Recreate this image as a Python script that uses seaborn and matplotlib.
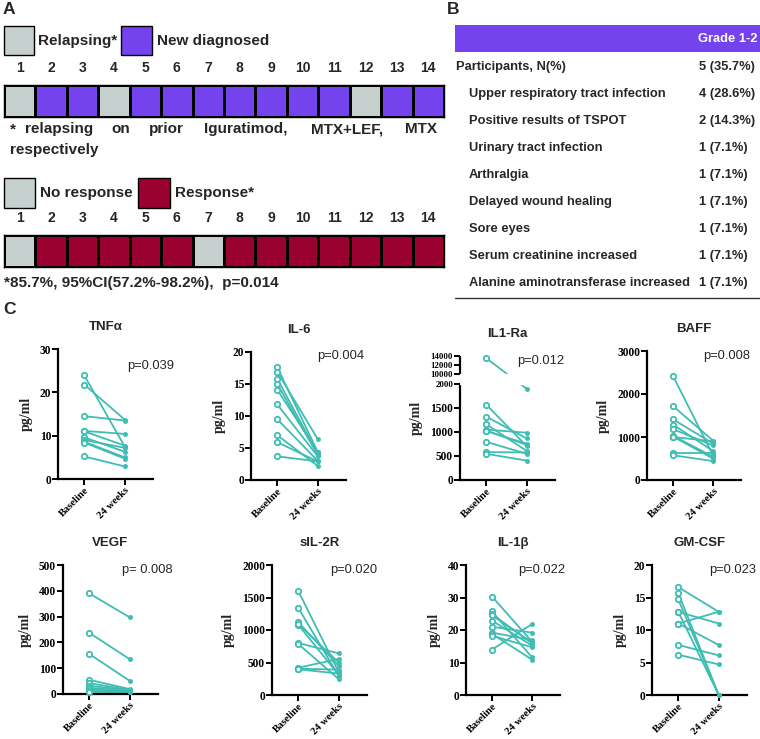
import numpy as np
import pandas as pd
import matplotlib
matplotlib.use("Agg")
import matplotlib.pyplot as plt
import matplotlib.transforms as mtrans
from matplotlib.colors import ListedColormap
from matplotlib.patches import Rectangle
import seaborn as sns

# ---------------- data ----------------
patients = list(range(1, 15))
relapsing_flag = [1, 0, 0, 1, 0, 0, 0, 0, 0, 0, 0, 1, 0, 0]   # 1 = relapsing, 0 = new diagnosed
response_flag = [0, 1, 1, 1, 1, 1, 0, 1, 1, 1, 1, 1, 1, 1]    # 1 = response, 0 = no response

ae_items = ["Participants, N(%)", "Upper respiratory tract infection", "Positive results of TSPOT",
            "Urinary tract infection", "Arthralgia", "Delayed wound healing", "Sore eyes",
            "Serum creatinine increased", "Alanine aminotransferase increased"]
ae_values = ["5 (35.7%)", "4 (28.6%)", "2 (14.3%)", "1 (7.1%)", "1 (7.1%)", "1 (7.1%)",
             "1 (7.1%)", "1 (7.1%)", "1 (7.1%)"]

time_labels = ["Baseline", "24 weeks"]

tnf_base = [23.9, 21.8, 14.5, 11.1, 11.0, 9.6, 9.0, 8.6, 8.4, 5.2]
tnf_w24 = [7.5, 13.7, 13.5, 10.4, 7.7, 6.3, 7.2, 5.0, 4.7, 2.9]
il6_base = [17.6, 16.9, 15.8, 15.0, 14.1, 11.8, 9.5, 7.0, 5.9, 3.7]
il6_w24 = [4.4, 6.4, 4.1, 3.9, 4.4, 3.7, 3.0, 2.2, 2.9, 2.9]
il1ra_base = [13500, 1570, 1320, 1160, 1050, 1020, 795, 580, 545, 1030]
il1ra_w24 = [1900, 705, 865, 605, 985, 755, 545, 575, 405, 730]
baff_base = [2420, 1720, 1410, 1290, 1180, 1030, 1000, 620, 575, 1010]
baff_w24 = [575, 915, 850, 675, 805, 540, 900, 620, 440, 500]
vegf_base = [390, 237, 155, 55, 42, 32, 24, 18, 12, 8]
vegf_w24 = [297, 135, 51, 19, 16, 14, 12, 10, 9, 7]
sil2r_base = [1600, 1340, 1120, 1080, 800, 785, 420, 405, 395, 1095]
sil2r_w24 = [350, 290, 445, 310, 640, 245, 555, 390, 330, 500]
il1b_base = [30.3, 25.7, 24.9, 22.9, 21.0, 19.2, 18.8, 18.2, 14.0, 24.5]
il1b_w24 = [16.4, 11.6, 15.9, 15.2, 19.2, 16.9, 10.9, 14.7, 21.8, 16.2]
gmcsf_base = [16.6, 15.7, 14.7, 12.8, 12.8, 11.0, 11.0, 7.7, 6.2]
gmcsf_w24 = [12.8, 0, 0, 11.0, 0, 12.8, 7.7, 6.1, 4.7]

p_values = ["p=0.039", "p=0.004", "p=0.012", "p=0.008", "p= 0.008", "p=0.020", "p=0.022", "p=0.023"]

# ---------------- style ----------------
sns.set_theme(style="ticks")
plt.rcParams["font.family"] = ["Liberation Sans", "DejaVu Sans"]
SERIF = "Liberation Serif"
GRAY = "#C5D0CF"
PURPLE = "#7443EE"
RED = "#9A0030"
TEAL = "#3FBDB3"

W, H = 760, 739
fig = plt.figure(figsize=(7.6, 7.39), dpi=100)


def box(x0, y0, x1, y1):
    return [x0 / W, 1 - y1 / H, (x1 - x0) / W, (y1 - y0) / H]


def ftext(x, y, s, **kw):
    kw.setdefault("va", "center")
    return fig.text(x / W, 1 - y / H, s, **kw)


def fsquare(x0, y0, x1, y1, color):
    fig.add_artist(Rectangle((x0 / W, 1 - y1 / H), (x1 - x0) / W, (y1 - y0) / H,
                             transform=fig.transFigure, facecolor=color,
                             edgecolor="black", linewidth=1))


# ---------------- panel A ----------------
ftext(3, 9, "A", fontsize=12.5, fontweight="bold")

fsquare(4, 26, 34, 55, GRAY)
ftext(38, 41, "Relapsing*", fontsize=11, fontweight="bold")
fsquare(121, 26, 152, 55, PURPLE)
ftext(157, 41, "New diagnosed", fontsize=11, fontweight="bold")


def strip(ax, flags, c0, c1):
    sns.heatmap(np.array([flags]), cmap=ListedColormap([c0, c1]), vmin=0, vmax=1,
                cbar=False, linewidths=1, linecolor="black", ax=ax,
                xticklabels=patients, yticklabels=False)
    ax.xaxis.tick_top()
    ax.tick_params(axis="x", length=0, pad=7, labelsize=10, rotation=0)
    for lbl in ax.get_xticklabels():
        lbl.set_fontweight("bold")
    for sp in ax.spines.values():
        sp.set_visible(True)
        sp.set_linewidth(1)
        sp.set_color("black")


axA1 = fig.add_axes(box(4, 85, 444, 117))
strip(axA1, relapsing_flag, PURPLE, GRAY)

foot_words = ["*", "relapsing", "on", "prior", "Iguratimod,", "MTX+LEF,", "MTX"]
foot_x = [10, 25, 111, 149, 204, 311, 405]
for wx, wd in zip(foot_x, foot_words):
    ftext(wx, 129, wd, fontsize=11, fontweight="bold")
ftext(10, 150, "respectively", fontsize=11, fontweight="bold")

fsquare(4, 178, 35, 208, GRAY)
ftext(40, 193, "No response", fontsize=11, fontweight="bold")
fsquare(138, 178, 170, 208, RED)
ftext(175, 193, "Response*", fontsize=11, fontweight="bold")

axA2 = fig.add_axes(box(4, 235, 444, 267))
strip(axA2, response_flag, GRAY, RED)
ftext(4, 283, "*85.7%, 95%CI(57.2%-98.2%),  p=0.014", fontsize=11, fontweight="bold")

# ---------------- panel B ----------------
ftext(447, 9, "B", fontsize=12.5, fontweight="bold")
axB = fig.add_axes(box(455, 25, 760, 300))
axB.set_xlim(455, 760)
axB.set_ylim(300, 25)
axB.axis("off")
axB.add_patch(Rectangle((455, 25), 305, 27, facecolor=PURPLE, edgecolor="none"))
axB.text(757, 39, "Grade 1-2", ha="right", va="center", color="white",
         fontsize=9.3, fontweight="bold")
for i, (item, val) in enumerate(zip(ae_items, ae_values)):
    yy = 67 + 27.0 * i
    axB.text(456 if i == 0 else 469, yy, item, ha="left", va="center",
             fontsize=9.3, fontweight="bold")
    axB.text(699, yy, val, ha="left", va="center", fontsize=9.3, fontweight="bold")
axB.plot([455, 760], [298, 298], color="#333333", lw=1)

# ---------------- panel C ----------------
ftext(3, 310, "C", fontsize=12.5, fontweight="bold")


def style_axis(ax, ymax, yticks, ysize=8.3):
    sns.despine(ax=ax)
    ax.set_xlim(-0.65, 1.7)
    ax.set_xticks([0, 1])
    ax.set_xticklabels(time_labels, rotation=45, ha="right", rotation_mode="anchor",
                       fontfamily=SERIF, fontweight="bold", fontsize=7.6)
    ax.set_yticks(yticks)
    ax.set_yticklabels([str(t) for t in yticks],
                       fontfamily=SERIF, fontweight="bold", fontsize=ysize)
    ax.set_ylim(0, ymax)
    ax.set_xlabel("")
    ax.set_ylabel("pg/ml", fontfamily=SERIF, fontweight="bold", fontsize=10, labelpad=5)
    for sp in ("left", "bottom"):
        ax.spines[sp].set_linewidth(1.6)
        ax.spines[sp].set_color("black")
    ax.tick_params(axis="y", length=4, width=1.4, pad=1, colors="black")
    ax.tick_params(axis="x", length=4, width=1.4, pad=1, colors="black")
    ax.set_facecolor("white")


def paired(ax, base, w24):
    n = len(base)
    df = pd.DataFrame({
        "subject": list(range(n)) * 2,
        "time": [0] * n + [1] * n,
        "value": list(base) + list(w24),
    })
    sns.lineplot(data=df, x="time", y="value", units="subject", estimator=None,
                 color=TEAL, lw=1.3, ax=ax, sort=False, legend=False)
    sns.scatterplot(data=df[df.time == 0], x="time", y="value", ax=ax, marker="o", s=15,
                    facecolor="white", edgecolor=TEAL, linewidth=1.3, zorder=4,
                    clip_on=False, legend=False)
    sns.scatterplot(data=df[df.time == 1], x="time", y="value", ax=ax, marker="o", s=9,
                    color=TEAL, edgecolor=TEAL, linewidth=0.5, zorder=4,
                    clip_on=False, legend=False)


panels = [
    # name, base, w24, ymax, yticks, box(x0,y0,x1,y1), p position
    ("TNFα", tnf_base, tnf_w24, 30, [0, 10, 20, 30], (58, 349, 153, 479), (127, 366)),
    ("IL-6", il6_base, il6_w24, 20, [0, 5, 10, 15, 20], (251, 352, 346, 480), (317, 356)),
    ("IL1-Ra", il1ra_base, il1ra_w24, 14000, None, (460, 356, 555, 480), (517, 361)),
    ("BAFF", baff_base, baff_w24, 3000, [0, 1000, 2000, 3000], (647, 351, 741, 480), (703, 356)),
    ("VEGF", vegf_base, vegf_w24, 500, [0, 100, 200, 300, 400, 500], (63, 565, 158, 694), (122, 570)),
    ("sIL-2R", sil2r_base, sil2r_w24, 2000, [0, 500, 1000, 1500, 2000], (272, 565, 367, 695), (330, 570)),
    ("IL-1β", il1b_base, il1b_w24, 40, [0, 10, 20, 30, 40], (466, 565, 560, 695), (518, 570)),
    ("GM-CSF", gmcsf_base, gmcsf_w24, 20, [0, 5, 10, 15, 20], (652, 565, 747, 695), (709, 570)),
]


def fwd(y):
    y = np.asarray(y, dtype=float)
    return np.where(y <= 2000, y,
                    np.where(y <= 10000, 2000 + (y - 2000) * 0.026,
                             2208 + (y - 10000) * 0.09375))


def inv(z):
    z = np.asarray(z, dtype=float)
    return np.where(z <= 2000, z,
                    np.where(z <= 2208, 2000 + (z - 2000) / 0.026,
                             10000 + (z - 2208) / 0.09375))


for k, (name, base, w24, ymax, yticks, bx, ppos) in enumerate(panels):
    ax = fig.add_axes(box(*bx))
    paired(ax, base, w24)
    if name == "IL1-Ra":
        ax.set_yscale("function", functions=(fwd, inv))
        ticks = [0, 500, 1000, 1500, 2000, 10000, 12000, 14000]
        style_axis(ax, ymax, ticks)
        ax.yaxis.set_minor_locator(matplotlib.ticker.NullLocator())
        for lbl, t in zip(ax.get_yticklabels(), ticks):
            if t >= 2000:
                lbl.set_fontsize(6.3)
        ax.axhspan(2060, 9900, color="white", zorder=3)
        ax.spines["left"].set_bounds(0, 2000)
        trans = mtrans.blended_transform_factory(ax.transAxes, ax.transData)
        ax.plot([0, 0], [10000, 14000], transform=trans, color="black", lw=1.6,
                clip_on=False, solid_capstyle="butt")
    else:
        style_axis(ax, ymax, yticks)
    cx = (bx[0] + bx[2]) / 2
    ftext(cx, bx[1] - 22, name, ha="center", fontsize=9.5, fontweight="bold")
    ftext(ppos[0], ppos[1], p_values[k], ha="left", fontsize=9.3)

fig.savefig("out.png", dpi=100, facecolor="white")
